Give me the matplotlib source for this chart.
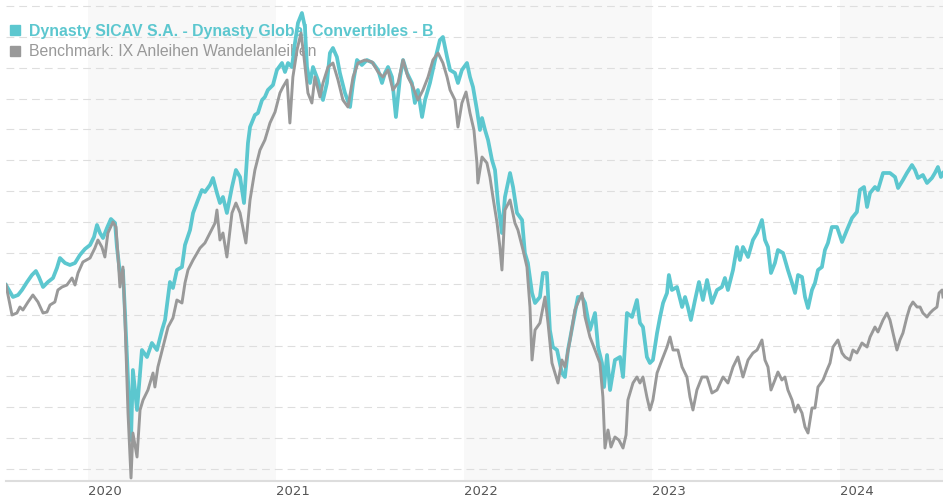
import numpy as np
import matplotlib
matplotlib.use("Agg")
import matplotlib.pyplot as plt
from matplotlib.lines import Line2D

# performance since start (%), sampled at decimal-year dates
fund_t = [2019.564, 2019.601, 2019.628, 2019.649, 2019.676, 2019.702, 2019.723, 2019.739, 2019.761, 2019.787,
          2019.814, 2019.835, 2019.851, 2019.878, 2019.904, 2019.931, 2019.957, 2019.984, 2020.011, 2020.032,
          2020.048, 2020.064, 2020.080, 2020.101, 2020.122, 2020.144, 2020.154, 2020.170, 2020.186, 2020.197,
          2020.213, 2020.229, 2020.239, 2020.261, 2020.287, 2020.314, 2020.340, 2020.367, 2020.394, 2020.410,
          2020.436, 2020.452, 2020.473, 2020.500, 2020.516, 2020.543, 2020.559, 2020.585, 2020.606, 2020.622,
          2020.649, 2020.665, 2020.686, 2020.702, 2020.718, 2020.739, 2020.766, 2020.787, 2020.809, 2020.830,
          2020.851, 2020.862, 2020.888, 2020.904, 2020.926, 2020.941, 2020.957, 2020.984, 2021.005, 2021.032,
          2021.048, 2021.064, 2021.085, 2021.101, 2021.117, 2021.138, 2021.154, 2021.165, 2021.181, 2021.197,
          2021.223, 2021.250, 2021.271, 2021.287, 2021.303, 2021.324, 2021.340, 2021.367, 2021.394, 2021.410,
          2021.431, 2021.457, 2021.484, 2021.516, 2021.543, 2021.564, 2021.580, 2021.596, 2021.617, 2021.638,
          2021.660, 2021.676, 2021.697, 2021.723, 2021.739, 2021.755, 2021.777, 2021.793, 2021.819, 2021.846,
          2021.872, 2021.888, 2021.910, 2021.926, 2021.952, 2021.968, 2021.989, 2022.016, 2022.032, 2022.048,
          2022.069, 2022.085, 2022.096, 2022.112, 2022.128, 2022.149, 2022.165, 2022.181, 2022.202, 2022.218,
          2022.234, 2022.245, 2022.261, 2022.282, 2022.309, 2022.324, 2022.340, 2022.362, 2022.378, 2022.404,
          2022.420, 2022.441, 2022.457, 2022.473, 2022.495, 2022.521, 2022.537, 2022.553, 2022.580, 2022.606,
          2022.628, 2022.644, 2022.670, 2022.697, 2022.713, 2022.734, 2022.745, 2022.761, 2022.777, 2022.803,
          2022.830, 2022.846, 2022.867, 2022.894, 2022.920, 2022.936, 2022.952, 2022.973, 2022.989, 2023.005,
          2023.027, 2023.043, 2023.059, 2023.080, 2023.090, 2023.106, 2023.133, 2023.160, 2023.176, 2023.191,
          2023.207, 2023.229, 2023.250, 2023.271, 2023.293, 2023.319, 2023.346, 2023.372, 2023.388, 2023.404,
          2023.431, 2023.452, 2023.468, 2023.484, 2023.511, 2023.537, 2023.559, 2023.585, 2023.601, 2023.617,
          2023.633, 2023.654, 2023.670, 2023.697, 2023.723, 2023.745, 2023.761, 2023.777, 2023.798, 2023.814,
          2023.830, 2023.851, 2023.867, 2023.883, 2023.904, 2023.920, 2023.936, 2023.957, 2023.984, 2024.011,
          2024.037, 2024.064, 2024.090, 2024.106, 2024.128, 2024.144, 2024.160, 2024.186, 2024.202, 2024.229,
          2024.266, 2024.293, 2024.309, 2024.335, 2024.356, 2024.383, 2024.399, 2024.415, 2024.441, 2024.463,
          2024.489, 2024.505, 2024.521, 2024.537, 2024.548]
fund_v = [0.0, -2.4, -2.0, -1.0, 0.6, 2.0, 2.8, 1.6, -0.4, 0.6,
          1.4, 3.4, 5.4, 4.4, 4.0, 4.4, 6.0, 7.2, 8.0, 9.6,
          12.0, 10.4, 9.4, 11.4, 13.2, 12.4, 7.6, 2.4, 3.0, -5.6,
          -19.0, -31.0, -17.0, -25.0, -13.0, -14.4, -11.6, -13.0, -9.0, -7.0,
          0.6, -0.6, 3.0, 3.6, 8.0, 11.0, 14.4, 17.0, 19.0, 18.6,
          20.0, 21.4, 18.4, 16.4, 17.6, 14.4, 19.6, 23.0, 21.6, 16.4,
          28.4, 31.6, 34.0, 34.4, 37.0, 37.6, 39.0, 40.0, 43.0, 44.4,
          42.6, 44.4, 43.6, 48.4, 52.4, 54.4, 51.6, 43.6, 40.4, 43.6,
          41.0, 37.0, 40.4, 46.4, 47.4, 45.6, 42.4, 38.4, 35.6, 40.4,
          45.0, 44.0, 45.0, 44.4, 43.0, 40.4, 42.4, 43.6, 41.6, 33.6,
          41.6, 45.0, 42.4, 40.4, 36.4, 39.0, 33.6, 37.0, 40.4, 45.0,
          49.0, 49.6, 45.6, 43.0, 42.4, 40.4, 43.0, 44.4, 41.6, 39.6,
          35.0, 31.0, 33.4, 31.0, 29.0, 25.0, 23.0, 16.4, 10.4, 17.6,
          20.4, 22.4, 19.6, 14.4, 13.0, 6.4, 4.4, -1.6, -3.6, -2.4,
          2.4, 2.4, -9.0, -12.4, -13.0, -17.6, -18.4, -13.0, -7.6, -2.4,
          -2.4, -3.6, -9.0, -5.6, -12.4, -15.6, -20.4, -14.0, -21.0, -15.0,
          -14.4, -18.4, -5.6, -6.4, -3.0, -7.6, -8.4, -14.4, -15.6, -15.0,
          -9.6, -6.4, -3.6, -1.6, 2.0, -1.0, -0.4, -4.4, -2.4, -4.4,
          -7.0, -3.0, 0.6, -3.0, 1.0, -3.6, -1.0, -0.4, 1.4, -1.0,
          3.0, 7.6, 5.0, 7.6, 5.6, 9.0, 10.4, 13.0, 9.0, 7.6,
          2.4, 4.4, 7.0, 6.4, 3.0, 0.4, -1.6, 2.0, 1.6, -2.4,
          -4.6, -1.0, 0.4, 3.0, 3.6, 7.0, 8.4, 11.6, 11.6, 8.6,
          11.0, 13.4, 14.6, 19.0, 19.6, 15.6, 18.4, 19.6, 19.0, 22.4,
          22.4, 21.6, 19.4, 21.0, 22.4, 24.0, 23.0, 21.4, 22.0, 20.4,
          21.4, 22.4, 23.6, 21.6, 22.4]

bench_t = [2019.564, 2019.596, 2019.622, 2019.638, 2019.654, 2019.681, 2019.707, 2019.734, 2019.761, 2019.782,
           2019.798, 2019.824, 2019.840, 2019.862, 2019.888, 2019.915, 2019.931, 2019.947, 2019.973, 2020.011,
           2020.037, 2020.053, 2020.074, 2020.090, 2020.106, 2020.133, 2020.149, 2020.160, 2020.170, 2020.186,
           2020.197, 2020.213, 2020.229, 2020.239, 2020.261, 2020.277, 2020.293, 2020.319, 2020.346, 2020.356,
           2020.372, 2020.399, 2020.426, 2020.452, 2020.473, 2020.500, 2020.516, 2020.532, 2020.559, 2020.596,
           2020.622, 2020.649, 2020.676, 2020.686, 2020.702, 2020.718, 2020.739, 2020.766, 2020.787, 2020.809,
           2020.840, 2020.862, 2020.888, 2020.915, 2020.941, 2020.968, 2020.995, 2021.021, 2021.037, 2021.059,
           2021.074, 2021.090, 2021.112, 2021.133, 2021.149, 2021.170, 2021.191, 2021.207, 2021.234, 2021.250,
           2021.277, 2021.303, 2021.330, 2021.356, 2021.383, 2021.410, 2021.436, 2021.473, 2021.511, 2021.543,
           2021.569, 2021.596, 2021.622, 2021.649, 2021.676, 2021.702, 2021.729, 2021.755, 2021.782, 2021.809,
           2021.835, 2021.862, 2021.888, 2021.910, 2021.926, 2021.952, 2021.968, 2021.989, 2022.011, 2022.032,
           2022.053, 2022.069, 2022.074, 2022.096, 2022.122, 2022.138, 2022.154, 2022.176, 2022.191, 2022.202,
           2022.218, 2022.245, 2022.271, 2022.287, 2022.314, 2022.335, 2022.351, 2022.362, 2022.378, 2022.404,
           2022.431, 2022.447, 2022.468, 2022.484, 2022.500, 2022.521, 2022.537, 2022.564, 2022.590, 2022.628,
           2022.644, 2022.670, 2022.697, 2022.723, 2022.739, 2022.750, 2022.766, 2022.782, 2022.803, 2022.824,
           2022.846, 2022.862, 2022.872, 2022.899, 2022.920, 2022.936, 2022.952, 2022.973, 2022.989, 2023.005,
           2023.027, 2023.053, 2023.080, 2023.096, 2023.112, 2023.138, 2023.160, 2023.186, 2023.202, 2023.218,
           2023.239, 2023.266, 2023.293, 2023.319, 2023.346, 2023.378, 2023.404, 2023.431, 2023.457, 2023.484,
           2023.511, 2023.537, 2023.559, 2023.585, 2023.601, 2023.617, 2023.633, 2023.654, 2023.670, 2023.691,
           2023.707, 2023.723, 2023.745, 2023.761, 2023.777, 2023.798, 2023.814, 2023.830, 2023.851, 2023.867,
           2023.883, 2023.910, 2023.931, 2023.947, 2023.963, 2023.989, 2024.011, 2024.027, 2024.053, 2024.069,
           2024.090, 2024.117, 2024.144, 2024.160, 2024.186, 2024.202, 2024.229, 2024.250, 2024.266, 2024.282,
           2024.303, 2024.319, 2024.335, 2024.356, 2024.372, 2024.388, 2024.410, 2024.426, 2024.441, 2024.463,
           2024.479, 2024.495, 2024.516, 2024.527, 2024.543, 2024.548]
bench_v = [0.0, -6.0, -5.6, -4.4, -5.0, -3.4, -2.0, -3.4, -5.6, -5.4,
           -4.0, -3.4, -1.0, -0.4, 0.0, 1.4, 0.0, 2.4, 4.6, 5.4,
           7.4, 9.0, 7.6, 5.6, 10.4, 12.6, 11.6, 5.6, -0.4, 3.6,
           -7.0, -25.6, -38.6, -29.6, -34.4, -25.0, -23.0, -21.0, -17.6, -20.4,
           -16.4, -12.4, -8.4, -6.6, -3.0, -3.6, 0.4, 3.0, 5.0, 7.4,
           8.4, 10.4, 12.4, 15.0, 9.0, 10.4, 5.6, 14.4, 16.4, 14.4,
           8.4, 17.0, 23.0, 27.0, 29.0, 32.4, 34.6, 38.4, 39.6, 41.0,
           32.4, 41.6, 47.0, 50.4, 45.6, 38.4, 36.4, 41.6, 37.6, 40.4,
           43.6, 44.4, 41.0, 37.0, 35.6, 41.6, 44.4, 45.0, 44.6, 42.6,
           41.6, 43.0, 39.0, 40.4, 45.0, 41.6, 39.6, 37.0, 39.0, 41.6,
           45.0, 46.4, 44.4, 41.6, 39.0, 37.0, 31.6, 36.4, 38.6, 34.4,
           31.0, 24.4, 20.4, 25.6, 24.4, 21.6, 17.6, 12.4, 7.6, 3.0,
           15.0, 17.0, 12.4, 11.0, 7.0, 3.6, -4.4, -15.0, -9.0, -7.6,
           -2.4, -7.6, -15.6, -17.6, -19.6, -15.0, -16.4, -11.0, -5.0, -1.6,
           -6.4, -10.4, -13.0, -15.6, -22.4, -32.6, -29.0, -32.4, -30.4, -31.0,
           -32.6, -30.0, -23.0, -19.6, -18.4, -19.6, -18.4, -22.4, -25.0, -23.0,
           -17.6, -15.0, -12.4, -10.4, -13.0, -13.0, -16.4, -18.4, -22.4, -25.0,
           -21.0, -18.4, -18.4, -21.6, -21.0, -18.4, -19.6, -16.4, -14.4, -18.4,
           -15.0, -13.6, -13.0, -11.0, -15.0, -16.4, -21.0, -19.0, -17.4, -19.0,
           -18.4, -21.0, -23.0, -25.4, -24.0, -25.6, -28.4, -29.6, -24.6, -24.6,
           -20.4, -19.0, -17.0, -15.6, -12.4, -11.0, -13.6, -14.4, -15.0, -13.0,
           -13.6, -11.6, -12.4, -10.4, -8.4, -9.4, -7.0, -5.6, -7.0, -9.6,
           -13.0, -11.0, -9.6, -6.4, -4.4, -3.4, -4.4, -4.4, -5.6, -6.4,
           -5.6, -5.0, -4.4, -1.6, -1.0, -2.4]

years = [2020, 2021, 2022, 2023, 2024]
shaded_years = [2020, 2022, 2024]
fund_label = "Dynasty SICAV S.A. - Dynasty Global Convertibles - B"
bench_label = "Benchmark: IX Anleihen Wandelanleihen"

TEAL = "#5cc7cf"
GREY = "#999999"

fig = plt.figure(figsize=(9.43, 5.0), dpi=100)
ax = fig.add_axes([6 / 943, 19 / 500, 937 / 943, 481 / 500])

for y in shaded_years:
    ax.axvspan(y, y + 1, color="#f8f8f8", lw=0, zorder=0)

ax.plot(fund_t, fund_v, color=TEAL, lw=2.7, zorder=3, solid_joinstyle="round")
ax.plot(bench_t, bench_v, color=GREY, lw=2.1, zorder=4, solid_joinstyle="round")

ax.set_xlim(fund_t[0], fund_t[-1])
ax.set_ylim(-39.2, 57.0)

# dashed horizontal grid, no y labels
ax.set_yticks(np.linspace(-36.8, 55.8, 16))
ax.grid(axis="y", color="#dedede", lw=0.8, linestyle=(0, (7, 4.5)), zorder=1)
ax.set_axisbelow(True)
ax.tick_params(axis="y", length=0, labelleft=False)

ax.set_xticks(years)
ax.set_xticklabels([str(y) for y in years], ha="left", color="#555555",
                   fontsize=9.5, family=["Liberation Sans Narrow", "DejaVu Sans"])
ax.tick_params(axis="x", length=0, pad=3)

for s in ["top", "left", "right"]:
    ax.spines[s].set_visible(False)
ax.spines["bottom"].set_color("#dddddd")
ax.spines["bottom"].set_linewidth(1.5)

handles = [Line2D([], [], ls="", marker="s", ms=7, color=TEAL),
           Line2D([], [], ls="", marker="s", ms=7, color=GREY)]
leg = ax.legend(handles, [fund_label, bench_label], loc="upper left",
                bbox_to_anchor=(0.003, 0.951), frameon=False, handlelength=0.8,
                handletextpad=0.5, labelspacing=0.37, borderaxespad=0.0, borderpad=0.0,
                prop={"family": "Liberation Sans", "size": 11.4})
leg.set_zorder(2)
txt = leg.get_texts()
txt[0].set_color(TEAL)
txt[0].set_fontweight("bold")
txt[1].set_color(GREY)

fig.savefig("out.png", dpi=100)
